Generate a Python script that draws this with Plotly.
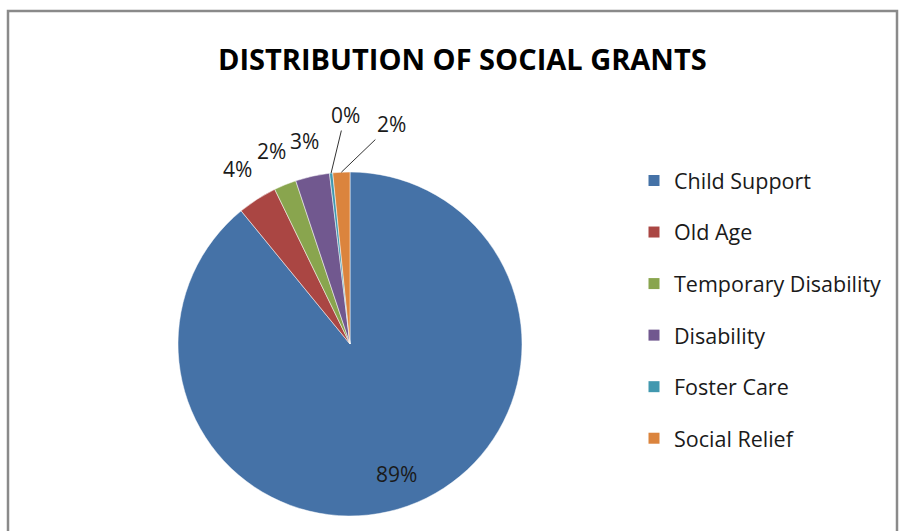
import math
import plotly.graph_objects as go

# Share of social grants by type (percent)
grant_types = ["Child Support", "Old Age", "Temporary Disability",
               "Disability", "Foster Care", "Social Relief"]
grant_share = [89, 3.7, 2.1, 3.2, 0.3, 1.6]
slice_colors = ["#4572A7", "#AA4643", "#89A54E", "#71588F", "#4198AF", "#DB843D"]

W, H = 911, 531
FONT = "Open Sans"
TEXT_COLOR = "#1a1a1a"

# pie geometry in pixels (margins are zero, so paper == pixels)
CX, CY, R = 350, 344, 172

fig = go.Figure()

fig.add_trace(go.Pie(
    labels=grant_types,
    values=grant_share,
    sort=False,
    direction="clockwise",
    rotation=0,
    marker=dict(colors=slice_colors, line=dict(color="white", width=0.5)),
    textinfo="none",
    showlegend=False,
    domain=dict(x=[(CX - R) / W, (CX + R) / W], y=[(H - CY - R) / H, (H - CY + R) / H]),
    hoverinfo="label+percent",
))


def to_paper(px, py):
    return px / W, 1 - py / H


# Percentage labels placed at each slice's mid-angle
total = sum(grant_share)
annotations = []
cum = 0.0
n = len(grant_share)
for i, v in enumerate(grant_share):
    mid = (cum + v / 2) / total * 2 * math.pi
    cum += v
    txt = f"{round(v / total * 100):.0f}%"
    font = dict(family=FONT, size=21, color=TEXT_COLOR)
    common = dict(text=txt, xref="paper", yref="paper", font=font,
                  xanchor="center", yanchor="middle")
    if v / total > 0.5:
        r = 0.8 * R
        x, y = to_paper(CX + r * math.sin(mid), CY - r * math.cos(mid))
        annotations.append(dict(x=x, y=y, showarrow=False, **common))
    elif i < n - 2:
        r = R + 36
        x, y = to_paper(CX + r * math.sin(mid), CY - r * math.cos(mid))
        annotations.append(dict(x=x, y=y, showarrow=False, **common))
    else:
        # thin slices at the top get leader lines
        x, y = to_paper(CX + R * math.sin(mid), CY - R * math.cos(mid))
        ax, ay = (14, -58) if i == n - 2 else (50, -48)
        annotations.append(dict(x=x, y=y, showarrow=True, arrowhead=0,
                                arrowwidth=1, arrowcolor="#333333", standoff=0,
                                ax=ax, ay=ay, **common))

annotations.append(dict(
    text="<b>DISTRIBUTION OF SOCIAL GRANTS</b>",
    x=462 / W, y=1 - 58 / H, xref="paper", yref="paper",
    xanchor="center", yanchor="middle", showarrow=False,
    font=dict(family=FONT, size=29, color="#000000"),
))

# Legend entries, one group per grant type so the gaps can be spaced out
for name, col in zip(grant_types, slice_colors):
    fig.add_trace(go.Scatter(
        x=[None], y=[None], mode="markers", name=name,
        legendgroup=name,
        marker=dict(symbol="square", size=11, color=col),
    ))

fig.update_layout(
    width=W, height=H,
    margin=dict(l=0, r=0, t=0, b=0),
    paper_bgcolor="white",
    plot_bgcolor="white",
    xaxis=dict(visible=False),
    yaxis=dict(visible=False),
    legend=dict(
        x=634 / W, y=1 - 160 / H, xanchor="left", yanchor="top",
        font=dict(family=FONT, size=21.5, color=TEXT_COLOR),
        tracegroupgap=20.6,
        itemwidth=30,
        bgcolor="rgba(0,0,0,0)",
    ),
    annotations=annotations,
    shapes=[dict(
        type="rect", xref="paper", yref="paper",
        x0=8 / W, x1=897 / W, y0=-0.2, y1=1 - 11 / H,
        line=dict(color="#8a8a8a", width=2.5),
        layer="below",
    )],
)

fig.write_html("out.html")
